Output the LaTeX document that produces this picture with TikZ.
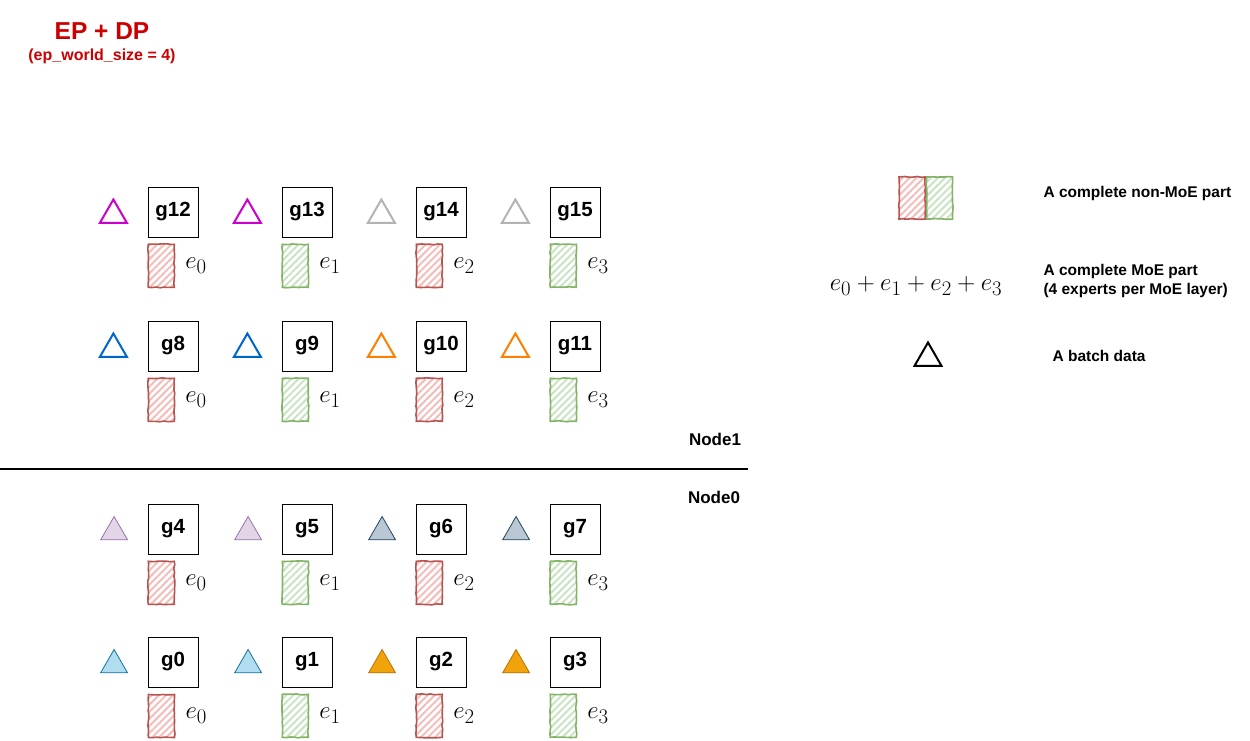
\documentclass[tikz,border=0pt]{standalone}
\usepackage{fontspec}
\setmainfont{Liberation Sans}
\usetikzlibrary{positioning,shapes.geometric,patterns.meta,decorations.pathmorphing}
\definecolor{titlered}{HTML}{CC0000}
\definecolor{exred}{HTML}{B85450}
\definecolor{exredfill}{HTML}{F5BDBA}
\definecolor{exgreen}{HTML}{82B366}
\definecolor{exgreenfill}{HTML}{CBE3C4}
\definecolor{cyanfill}{HTML}{B1DDF0}
\definecolor{cyanline}{HTML}{10739E}
\definecolor{orangefill}{HTML}{F0A30A}
\definecolor{orangeline}{HTML}{BD7000}
\definecolor{purplefill}{HTML}{E1D5E7}
\definecolor{purpleline}{HTML}{9673A6}
\definecolor{slatefill}{HTML}{BAC8D3}
\definecolor{slateline}{HTML}{23445D}
\definecolor{blueline}{HTML}{0066CC}
\definecolor{amberline}{HTML}{FF8000}
\definecolor{magline}{HTML}{CC00CC}
\definecolor{grayline}{HTML}{B3B3B3}
\tikzset{
  gpu/.style={draw, line width=1pt, minimum size=50pt, inner sep=0pt, font=\fontsize{20.5}{22}\selectfont\bfseries},
  batch/.style={regular polygon, regular polygon sides=3, minimum size=31pt, inner sep=0pt, line width=2pt},
  batch0/.style={batch, line width=.8pt, fill=cyanfill, draw=cyanline},
  batch1/.style={batch, line width=.8pt, fill=orangefill, draw=orangeline},
  batch2/.style={batch, line width=.8pt, fill=purplefill, draw=purpleline},
  batch3/.style={batch, line width=.8pt, fill=slatefill, draw=slateline},
  batch4/.style={batch, draw=blueline},
  batch5/.style={batch, draw=amberline},
  batch6/.style={batch, draw=magline},
  batch7/.style={batch, draw=grayline},
  expert/.style={minimum width=26pt, minimum height=43pt, inner sep=0pt, line width=1.6pt,
    decorate, decoration={random steps, segment length=4pt, amplitude=.5pt}},
  exp0/.style={expert, draw=exred, pattern={Lines[angle=45,distance=5pt,line width=2pt]}, pattern color=exredfill},
  exp1/.style={expert, draw=exgreen, pattern={Lines[angle=45,distance=5pt,line width=2pt]}, pattern color=exgreenfill},
  legtext/.style={anchor=west, align=left, font=\fontsize{15.5}{19}\selectfont\bfseries},
  nodetext/.style={font=\fontsize{17}{20}\selectfont\bfseries}
}
\begin{document}
\begin{tikzpicture}[x=1pt,y=-1pt]
  \useasboundingbox (0,0) rectangle (1250,741);
  \node[text=titlered, font=\fontsize{24.5}{28}\selectfont\bfseries] (title) at (102,31) {EP + DP};
  \node[text=titlered, font=\fontsize{16}{19}\selectfont\bfseries] (subtitle) at (102,56) {(ep\_world\_size = 4)};
  \foreach \i in {0,...,15}{
    \pgfmathtruncatemacro\c{mod(\i,4)}
    \pgfmathtruncatemacro\r{int(\i/4)}
    \pgfmathtruncatemacro\p{int(\i/2)}
    \pgfmathtruncatemacro\m{mod(\c,2)}
    \pgfmathsetmacro\gy{{662,529,346,212}[\r]}
    \node[gpu] (g\i) at (173+134*\c,\gy) {g\i};
    \node[batch\p, left=24pt of g\i, yshift=-3pt] (t\i) {};
    \node[exp\m, below=6pt of g\i.south west, anchor=north west] (x\i) {};
    \node[right=10pt of x\i, inner sep=0pt, font=\fontsize{30}{32}\selectfont] (l\i) {$e_{\c}$};
  }
  \coordinate (cutl) at (0,469);
  \coordinate (cutr) at (748,469);
  \draw[line width=2pt] (cutl) -- (cutr);
  \node[nodetext] (node1) at (715,439) {Node1};
  \node[nodetext] (node0) at (714,497) {Node0};
  \node[exp0, minimum height=42pt] (nm0) at (912,198) {};
  \node[exp1, minimum height=42pt, right=0pt of nm0] (nm1) {};
  \node[legtext] (nmtext) at (1040,193) {A complete non-MoE part};
  \node[font=\fontsize{32}{34}\selectfont] (moe) at (916,286) {$e_0+e_1+e_2+e_3$};
  \node[legtext] (moetext) at (1040,281) {A complete MoE part\\(4 experts per MoE layer)};
  \node[batch, draw=black] (bt) at (928,358) {};
  \node[legtext] (btext) at (1049,356) {A batch data};
\end{tikzpicture}
\end{document}
